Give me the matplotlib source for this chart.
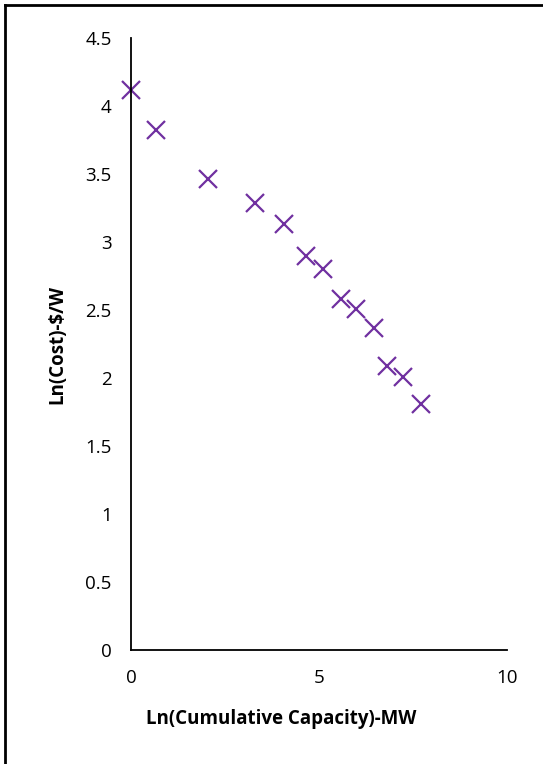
import matplotlib.pyplot as plt
from matplotlib.lines import Line2D

ln_capacity = [0.0, 0.66, 2.05, 3.3, 4.07, 4.65, 5.1, 5.59, 5.98, 6.46, 6.8, 7.23, 7.71]
ln_cost = [4.12, 3.82, 3.46, 3.29, 3.13, 2.9, 2.8, 2.58, 2.51, 2.37, 2.09, 2.01, 1.81]
x_ticks = [0, 5, 10]
y_ticks = [0, 0.5, 1, 1.5, 2, 2.5, 3, 3.5, 4, 4.5]

plt.rcParams['font.family'] = ['Open Sans', 'DejaVu Sans']

fig = plt.figure(figsize=(5.43, 7.64), dpi=100)
ax = fig.add_axes([131 / 543, 1 - 650 / 764, 376 / 543, 612 / 764])

ax.plot(ln_capacity, ln_cost, linestyle='none', marker='x', markersize=13,
        markeredgewidth=1.6, color='#7030A0', clip_on=False)

ax.set_xlim(0, 10)
ax.set_ylim(0, 4.5)
ax.set_xticks(x_ticks)
ax.set_xticklabels([str(t) for t in x_ticks])
ax.set_yticks(y_ticks)
ax.set_yticklabels([f"{t:g}" for t in y_ticks])
ax.tick_params(length=0, labelsize=13.5, pad=14)

for side in ['top', 'right']:
    ax.spines[side].set_visible(False)
for side in ['left', 'bottom']:
    ax.spines[side].set_linewidth(1.3)
    ax.spines[side].set_color('black')

ax.set_xlabel('Ln(Cumulative Capacity)-MW', fontsize=13.5, fontweight='bold')
ax.xaxis.set_label_coords(150 / 376, -59 / 612)
ax.set_ylabel('Ln(Cost)-$/W', fontsize=13.5, fontweight='bold')
ax.yaxis.set_label_coords(-64 / 376, 0.5)

# frame lines at the top and left of the picture
fig.add_artist(Line2D([5 / 543, 1], [1 - 5 / 764, 1 - 5 / 764], color='black', linewidth=2))
fig.add_artist(Line2D([5 / 543, 5 / 543], [0, 1 - 5 / 764], color='black', linewidth=2))

fig.savefig('out.png', dpi=100)
